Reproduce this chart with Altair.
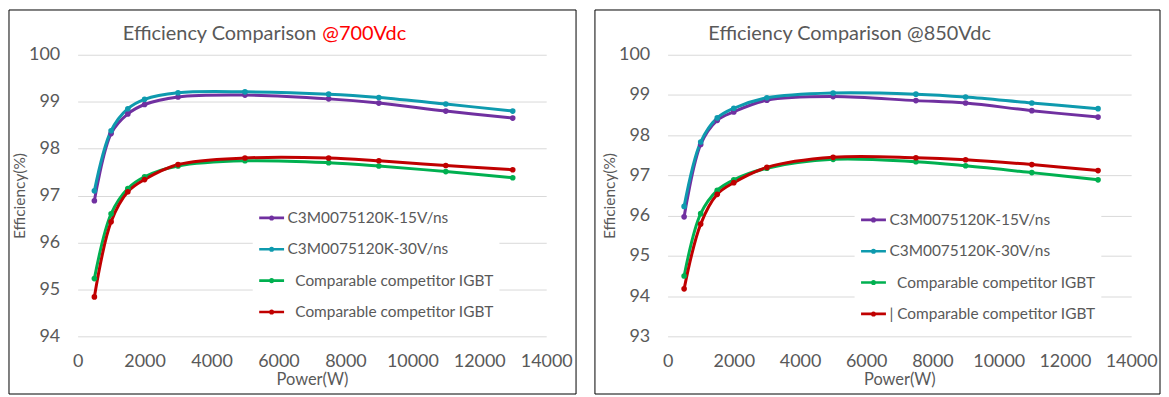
import altair as alt
import pandas as pd

# ---- data ----
power = [500, 1000, 1500, 2000, 3000, 5000, 7500, 9000, 11000, 13000]

series_keys = ["sic15", "sic30", "igbtA", "igbtB"]
labels_700 = ["C3M0075120K-15V/ns", "C3M0075120K-30V/ns",
              "\u200b\u2002Comparable competitor IGBT", "\u200b\u2002Comparable competitor IGBT"]
labels_850 = ["C3M0075120K-15V/ns", "C3M0075120K-30V/ns",
              "\u200b\u2002Comparable competitor IGBT", "| Comparable competitor IGBT"]
colors = ["#7030A0", "#0E9AAE", "#00B050", "#C00000"]

eff700_sic15 = [96.89, 98.32, 98.74, 98.94, 99.10, 99.14, 99.06, 98.97, 98.80, 98.65]
eff700_sic30 = [97.10, 98.38, 98.85, 99.05, 99.19, 99.21, 99.16, 99.09, 98.95, 98.80]
eff700_igbtA = [95.23, 96.61, 97.15, 97.40, 97.63, 97.74, 97.70, 97.63, 97.51, 97.38]
eff700_igbtB = [94.84, 96.44, 97.08, 97.34, 97.66, 97.80, 97.80, 97.74, 97.64, 97.55]

eff850_sic15 = [95.97, 97.77, 98.37, 98.58, 98.87, 98.96, 98.86, 98.80, 98.61, 98.45]
eff850_sic30 = [96.23, 97.83, 98.43, 98.67, 98.93, 99.05, 99.02, 98.95, 98.80, 98.66]
eff850_igbtA = [94.50, 96.05, 96.63, 96.89, 97.18, 97.40, 97.34, 97.24, 97.07, 96.89]
eff850_igbtB = [94.18, 95.79, 96.53, 96.82, 97.20, 97.45, 97.44, 97.39, 97.27, 97.12]

x_ticks = [0, 2000, 4000, 6000, 8000, 10000, 12000, 14000]
y_ticks_700 = [94, 95, 96, 97, 98, 99, 100]
y_ticks_850 = [93, 94, 95, 96, 97, 98, 99, 100]

FONT = "Lato"
GRAY = "#595959"
LEG_PATH = "M-1,0L1,0M0.1,0A0.1,0.1,0,1,1,-0.1,0A0.1,0.1,0,1,1,0.1,0"


def make_frame(series_vals):
    rows = []
    for key, vals in zip(series_keys, series_vals):
        for p, v in zip(power, vals):
            rows.append({"power": p, "eff": v, "series": key})
    return pd.DataFrame(rows)


def panel(series_vals, labels, ydom, yticks, width, height, leg_x, leg_y,
          frame_box, title_marks):
    df = make_frame(series_vals)
    expr = " : ".join(
        f"datum.value == '{k}' ? '{l}'" for k, l in zip(series_keys, labels)
    ) + " : ''"
    cscale = alt.Scale(domain=series_keys, range=colors)
    x = alt.X("power:Q", scale=alt.Scale(domain=[0, 14000], nice=False),
              axis=alt.Axis(values=x_ticks, title="Power(W)", grid=False,
                            domain=False, ticks=False, tickSize=0,
                            labelPadding=16, labelFontSize=18, labelColor=GRAY,
                            labelFont=FONT, titleFont=FONT, titleFontSize=16.5,
                            titleColor=GRAY, titleFontWeight="normal",
                            titlePadding=1, format="d", labelFlush=False))
    y = alt.Y("eff:Q", scale=alt.Scale(domain=ydom, nice=False, zero=False),
              axis=alt.Axis(values=yticks, title="Efficiency(%)", grid=True,
                            gridColor="#D9D9D9", gridWidth=1,
                            domain=False, ticks=False, tickSize=0,
                            labelPadding=18, labelFontSize=18, labelColor=GRAY,
                            labelFont=FONT, titleFont=FONT, titleFontSize=15.5,
                            titleColor=GRAY, titleFontWeight="normal",
                            titlePadding=1))
    legend = alt.Legend(title=None, orient="none", legendX=leg_x, legendY=leg_y,
                        fillColor="white", padding=5, labelExpr=expr,
                        symbolType=LEG_PATH, symbolSize=625, symbolStrokeWidth=2.6,
                        labelFont=FONT, labelFontSize=15.5, labelColor=GRAY,
                        labelOffset=2, rowPadding=8.5, labelLimit=400)
    lines = alt.Chart(df).mark_line(interpolate="catmull-rom", strokeWidth=3).encode(
        x=x, y=y,
        color=alt.Color("series:N", scale=cscale, legend=legend, sort=series_keys),
    )
    points = alt.Chart(df).mark_point(filled=True, size=32, opacity=1).encode(
        x=x, y=y,
        color=alt.Color("series:N", scale=cscale, legend=None, sort=series_keys),
    )
    fx, fx2, fy, fy2 = frame_box
    frame = alt.Chart(alt.Data(values=[{"f": 1}])).mark_rect(
        filled=False, stroke="black", strokeWidth=1
    ).encode(x=alt.value(fx), x2=alt.value(fx2), y=alt.value(fy), y2=alt.value(fy2))
    texts = []
    for txt, tx, align, col in title_marks:
        texts.append(
            alt.Chart(alt.Data(values=[{"f": 1}])).mark_text(
                text=txt, align=align, baseline="middle", font=FONT,
                fontSize=20, color=col
            ).encode(x=alt.value(tx), y=alt.value(-21))
        )
    return alt.layer(frame, lines, points, *texts).properties(width=width, height=height)


left = panel(
    [eff700_sic15, eff700_sic30, eff700_igbtA, eff700_igbtB], labels_700,
    [94, 100], y_ticks_700, 471, 283, 176, 145,
    (-69, 501, -45, 341),
    [("Efficiency Comparison", 240, "right", GRAY), ("@700Vdc", 246, "left", "#FF0000")],
)
right = panel(
    [eff850_sic15, eff850_sic30, eff850_igbtA, eff850_igbtB], labels_850,
    [93, 100], y_ticks_850, 466, 283, 188, 147,
    (-73, 495, -45, 341),
    [("Efficiency Comparison @850Vdc", 183, "center", GRAY)],
)

chart = alt.hconcat(left, right, spacing=17).resolve_scale(
    color="independent", x="independent", y="independent"
).resolve_legend(color="independent").properties(
    padding=0, background="white"
).configure_view(stroke=None)

chart.save("out.html", embed_options={"renderer": "svg", "actions": False})
